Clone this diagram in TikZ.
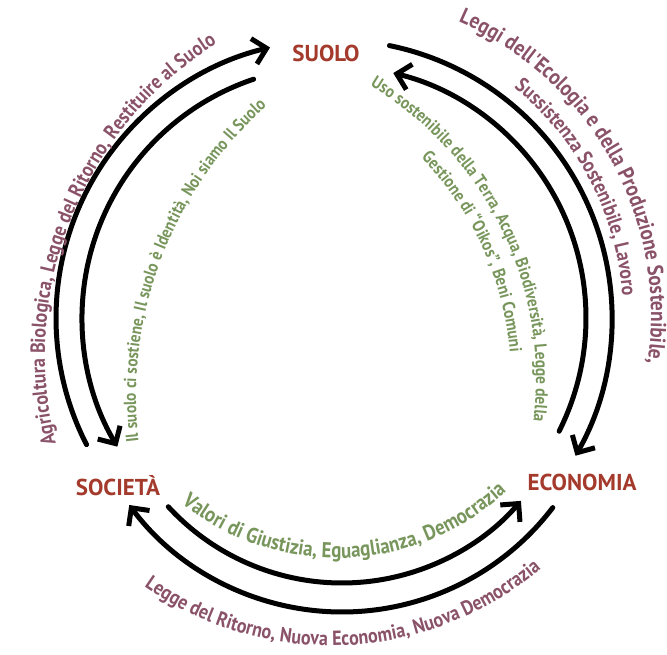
\documentclass[tikz,border=0pt]{standalone}
\usepackage{fontspec}
\usepackage{tikz}
\usetikzlibrary{arrows.meta,decorations.text}

\newfontfamily\titlefont{PT Sans}
\newfontfamily\labelfont[FakeStretch=0.88]{PT Sans Bold}
\newcommand\outerfont{\labelfont\fontsize{20.5}{24}\selectfont}
\newcommand\widefont{\labelfont\fontsize{22}{26}\selectfont}
\newcommand\innerfont{\labelfont\fontsize{17.5}{21}\selectfont}
\newcommand\valuefont{\labelfont\fontsize{21.5}{25}\selectfont}

\definecolor{titlecol}{RGB}{164,58,44}
\definecolor{outercol}{RGB}{138,82,104}
\definecolor{innercol}{RGB}{120,150,92}

\begin{document}
\begin{tikzpicture}[
    x=1pt, y=1pt,
    title/.style={font=\titlefont\bfseries\fontsize{23}{27}\selectfont, text=titlecol, inner sep=2pt},
    arrow/.style={-{Straight Barb[length=13pt, width=26pt]}, line width=5pt, draw=black, line cap=round},
    outerlbl/.style={decorate, decoration={text along path, text align=center, text color=outercol, text={|\outerfont|#1}}},
    widelbl/.style={decorate, decoration={text along path, text align=center, text color=outercol, text={|\widefont|#1}}},
    innerlbl/.style={decorate, decoration={text along path, text align=center, text color=innercol, text={|\innerfont|#1}}},
    valuelbl/.style={decorate, decoration={text along path, text align=center, text color=innercol, text={|\valuefont|#1}}}
]
    \useasboundingbox (0,0) rectangle (667,654);

    % Nodes
    \node[title] (suolo) at (326,601) {SUOLO};
    \node[title] (societa) at (118,168) {SOCIETÀ};
    \node[title] (economia) at (582,172) {ECONOMIA};

    % Centres of the arcs
    \coordinate (ctop) at (334,336);
    \coordinate (cbot) at (342,307);

    % Arcs
    \draw[arrow] ([shift={(207.1:278)}]ctop) arc[start angle=207.1, end angle=103.3, radius=278];
    \draw[arrow] ([shift={(108.6:252)}]ctop) arc[start angle=108.6, end angle=210.7, radius=252];
    \draw[arrow] ([shift={(78.5:278)}]ctop) arc[start angle=78.5, end angle=-29.7, radius=278];
    \draw[arrow] ([shift={(-26.7:252)}]ctop) arc[start angle=-26.7, end angle=76.4, radius=252];
    \draw[arrow] ([shift={(222.6:236)}]cbot) arc[start angle=222.6, end angle=319.3, radius=236];
    \draw[arrow] ([shift={(322.7:265)}]cbot) arc[start angle=322.7, end angle=216.6, radius=265];

    % Labels
    \path[outerlbl={Agricoltura Biologica, Legge del Ritorno, Restituire al Suolo}]
        ([shift={(202:368)}]413,299) arc[start angle=202, end angle=114.2, radius=368];
    \path[innerlbl={Il suolo ci sostiene, Il suolo è Identità, Noi siamo Il Suolo}]
        ([shift={(197:389)}]525,257) arc[start angle=197, end angle=121.2, radius=389];
    \path[widelbl={Leggi dell'Ecologia e della Produzione Sostenibile,}]
        ([shift={(71:321)}]330,338) arc[start angle=71, end angle=-13, radius=321];
    \path[outerlbl={Sussistenza Sostenibile, Lavoro}]
        ([shift={(60:293)}]330,338) arc[start angle=60, end angle=-5, radius=293];
    \path[innerlbl={Uso sostenibile della Terra, Acqua, Biodiversità, Legge della}]
        ([shift={(69:342)}]194,275) arc[start angle=69, end angle=-17, radius=342];
    \path[innerlbl={Gestione di “Oikos”, Beni Comuni}]
        ([shift={(54:317)}]194,275) arc[start angle=54, end angle=-4.9, radius=317];
    \path[valuelbl={Valori di Giustizia, Eguaglianza, Democrazia}]
        ([shift={(222:249)}]337,345) arc[start angle=222, end angle=322.3, radius=249];
    \path[outerlbl={Legge del Ritorno, Nuova Economia, Nuova Democrazia}]
        ([shift={(224:325)}]331,333.5) arc[start angle=224, end angle=321.2, radius=325];
\end{tikzpicture}
\end{document}
